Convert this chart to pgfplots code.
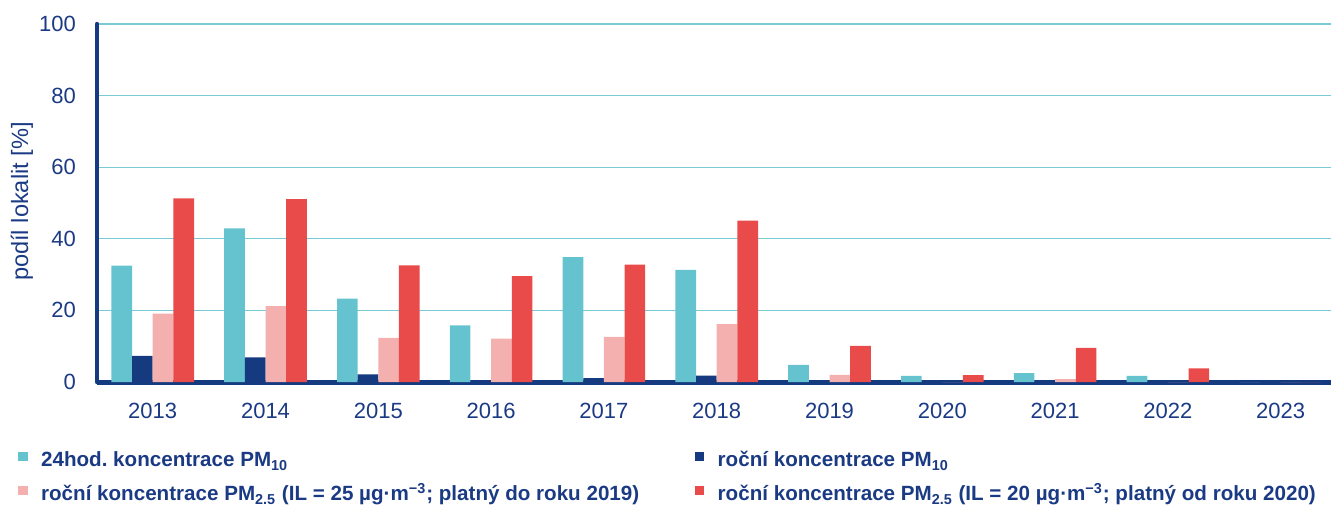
\documentclass[border=0pt]{standalone}
\usepackage{fontspec}
\setmainfont{Liberation Sans}
\usepackage{pgfplots}
\pgfplotsset{compat=1.18}
\frenchspacing

\definecolor{navytext}{HTML}{1B3A84}
\definecolor{cyanbar}{HTML}{65C3D0}
\definecolor{navybar}{HTML}{163A80}
\definecolor{pinkbar}{HTML}{F4AFAF}
\definecolor{redbar}{HTML}{E94A4A}
\definecolor{gridcyan}{HTML}{7ACAD5}

\pgfplotsset{
  sq legend/.style={legend image code/.code={\fill[##1] (0pt,0.3pt) rectangle (4.8pt,5pt);}},
}

\begin{document}
\begin{tikzpicture}
\begin{axis}[
    name=ax,
    scale only axis,
    width=617pt, height=179pt,
    ybar=0pt,
    bar width=0.183,
    xmin=-0.494, xmax=10.446,
    ymin=0, ymax=100,
    axis x line*=bottom,
    axis y line*=left,
    x axis line style={line width=2.5pt, -, draw=navybar},
    y axis line style={line width=2.2pt, -, draw=navybar, line cap=round},
    major tick length=0pt,
    xtick={0,...,10},
    xticklabels={2013,2014,2015,2016,2017,2018,2019,2020,2021,2022,2023},
    ytick={0,20,...,100},
    ymajorgrids=true,
    grid style={gridcyan, line width=0.6pt},
    tick label style={font=\fontsize{11}{13}\selectfont, text=navytext},
    xticklabel style={yshift=-6.8pt},
    yticklabel style={xshift=-7pt},
    /pgf/number format/assume math mode=true,
    ylabel={podíl lokalit [\%]},
    every axis y label/.style={at={(axis description cs:-0.0608,0.504)}, rotate=90, anchor=center,
        font=\fontsize{11.8}{13}\selectfont, text=navytext},
    legend columns=2,
    legend cell align=left,
    legend style={at={(axis description cs:-0.064,-0.187)}, anchor=north west,
        draw=none, fill=none, inner sep=0pt, outer sep=0pt,
        font=\fontsize{10.3}{12}\selectfont\bfseries, text=navytext,
        row sep=4pt, column sep=0pt,
        nodes={inner sep=0pt, text height=9pt, text depth=4pt},
        /tikz/every odd column/.style={column sep=6.75pt}},
]

\addplot[fill=cyanbar, draw=none, sq legend] coordinates {
    (0,32.5) (1,42.9) (2,23.3) (3,15.8) (4,34.9) (5,31.3)
    (6,4.8) (7,1.7) (8,2.5) (9,1.7) (10,0)
};
\addlegendentry{\makebox[326.75pt][l]{24hod. koncentrace PM\textsubscript{10}}}

\addplot[fill=navybar, draw=none, sq legend] coordinates {
    (0,7.3) (1,6.9) (2,2.1) (3,0) (4,1.1) (5,1.8)
    (6,0) (7,0) (8,0) (9,0) (10,0)
};
\addlegendentry{roční koncentrace PM\textsubscript{10}}

\addplot[fill=pinkbar, draw=none, sq legend] coordinates {
    (0,19.1) (1,21.2) (2,12.3) (3,12.1) (4,12.6) (5,16.2)
    (6,2.0) (7,0) (8,0.8) (9,0) (10,0)
};
\addlegendentry{\makebox[326.75pt][l]{roční koncentrace PM\textsubscript{2.5} (IL = 25 µg·m\textsuperscript{−3}; platný do roku 2019)}}

\addplot[fill=redbar, draw=none, sq legend] coordinates {
    (0,51.3) (1,51.1) (2,32.6) (3,29.6) (4,32.8) (5,45.1)
    (6,10.1) (7,1.9) (8,9.5) (9,3.8) (10,0)
};
\addlegendentry{roční koncentrace PM\textsubscript{2.5} (IL = 20 µg·m\textsuperscript{−3}; platný od roku 2020)}

\end{axis}
\pgfresetboundingbox
\path[use as bounding box] ([xshift=-48.5pt,yshift=-63pt]ax.south west) rectangle ([yshift=12pt]ax.north east);
\end{tikzpicture}
\end{document}
